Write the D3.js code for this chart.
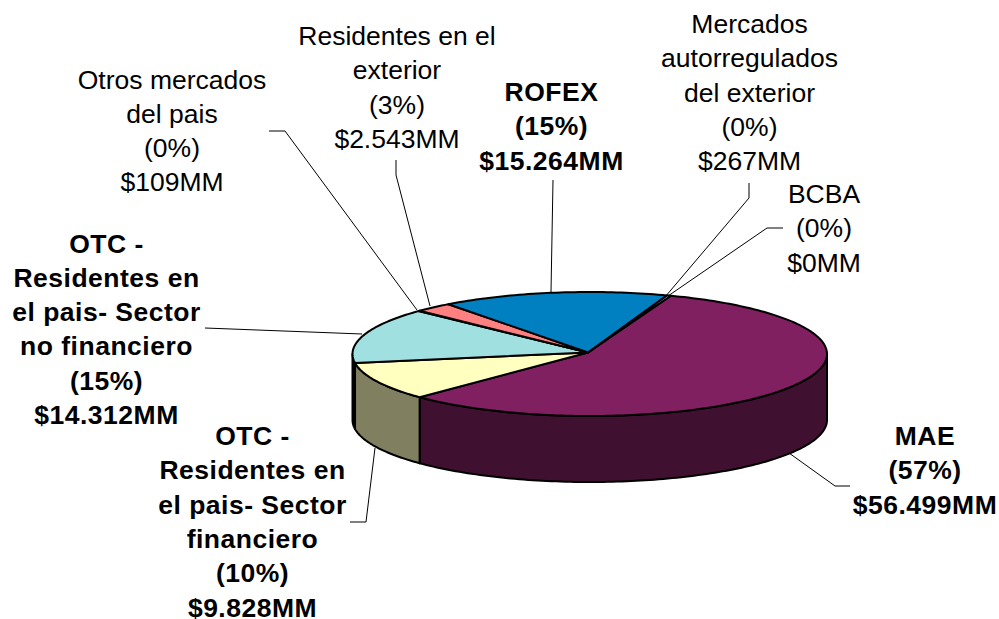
<!DOCTYPE html>
<html>
<head>
<meta charset="utf-8">
<script src="https://cdn.jsdelivr.net/npm/d3@7"></script>
<style>
    body { margin: 0; background: #fff; overflow: hidden; }
    svg { display: block; }
    text { font-family: "Liberation Sans", Arial, sans-serif; font-size: 26.5px; fill: #000; }
    text.bold { font-weight: bold; letter-spacing: 0.5px; }
</style>
</head>
<body>
<div id="chart"></div>
<script>
const categories = ["MAE", "OTC fin", "OTC no fin", "Otros", "Residentes", "ROFEX", "Autorregulados", "BCBA"];
const values = [56499, 9828, 14312, 109, 2543, 15264, 267, 0];
const topColors = ["#802060", "#ffffc0", "#a0e0e0", "#600080", "#ff8080", "#0080c0", "#c0c0ff", "#000080"];
const sideColors = ["#401030", "#808060", "#000000", "#300040", "#804040", "#004060", "#606080", "#000040"];

const labelLines = [
    ["MAE", "(57%)", "$56.499MM"],
    ["OTC -", "Residentes en", "el pais- Sector", "financiero", "(10%)", "$9.828MM"],
    ["OTC -", "Residentes en", "el pais- Sector", "no financiero", "(15%)", "$14.312MM"],
    ["Otros mercados", "del pais", "(0%)", "$109MM"],
    ["Residentes en el", "exterior", "(3%)", "$2.543MM"],
    ["ROFEX", "(15%)", "$15.264MM"],
    ["Mercados", "autorregulados", "del exterior", "(0%)", "$267MM"],
    ["BCBA", "(0%)", "$0MM"]
];
const labelBold = [true, true, true, false, false, true, false, false];
const labelX = [925, 252.5, 106.5, 172, 397, 551.5, 749.5, 824];
const labelY = [445, 445, 252.5, 88.5, 45, 101, 33, 203];
const lineStep = 34.3;

const leaders = [
    [[789, 453], [835, 486], [850, 486]],
    [[375, 448], [366, 522], [350, 522]],
    [[362, 334], [205, 328]],
    [[417, 310], [285, 131], [269, 131]],
    [[430, 306], [396, 175], [396, 160]],
    [[551, 292], [553, 180]],
    [[665, 297], [749, 198], [749, 183]],
    [[668, 296], [767, 228], [783, 228]]
];

const width = 999;
const height = 619;
const depth = 66;
const startDeg = 20;

const svg = d3.select("#chart").append("svg")
    .attr("width", width)
    .attr("height", height);

// flattened circle: unit coordinates to pixels
const px = d3.scaleLinear().domain([-1, 1]).range([352.5, 827]);
const py = d3.scaleLinear().domain([-1, 1]).range([292, 416]);

const pie = d3.pie().sort(null).startAngle(startDeg * Math.PI / 180).endAngle((startDeg + 360) * Math.PI / 180);
const slices = pie(values);

const line = d3.line().x(d => d[0]).y(d => d[1]);

function rim(a0, a1, dy) {
    const pts = [];
    const n = Math.max(2, Math.ceil((a1 - a0) / 0.02));
    for (let i = 0; i <= n; i++) {
        const a = a0 + (a1 - a0) * i / n;
        pts.push([px(Math.sin(a)), py(-Math.cos(a)) + dy]);
    }
    return pts;
}

// side wall, only the front half (angle 90 to 270 deg) can be seen
const wall = svg.append("g");
slices.forEach((s, i) => {
    const a0 = Math.max(s.startAngle, Math.PI / 2);
    const a1 = Math.min(s.endAngle, 3 * Math.PI / 2);
    if (a1 <= a0) return;
    const front = rim(a0, a1, 0);
    const back = rim(a0, a1, depth).reverse();
    wall.append("path")
        .attr("d", line(front.concat(back)) + "Z")
        .attr("fill", sideColors[i])
        .attr("stroke", "#000")
        .attr("stroke-width", 2)
        .attr("stroke-linejoin", "round");
});

// top face, the apex sits a bit up and left of the ellipse centre
const apex = [px(-0.007), py(-0.025)];
const face = svg.append("g");
slices.forEach((s, i) => {
    if (s.value === 0) return;
    const pts = [apex].concat(rim(s.startAngle, s.endAngle, 0));
    face.append("path")
        .attr("d", line(pts) + "Z")
        .attr("fill", topColors[i])
        .attr("stroke", "#000")
        .attr("stroke-width", 2)
        .attr("stroke-linejoin", "round");
});

// leader lines
svg.append("g").selectAll("path")
    .data(leaders)
    .enter()
    .append("path")
    .attr("d", d => line(d))
    .attr("fill", "none")
    .attr("stroke", "#000")
    .attr("stroke-width", 1);

// labels
labelLines.forEach((lines, i) => {
    const t = svg.append("text")
        .attr("class", labelBold[i] ? "bold" : null)
        .attr("text-anchor", "middle");
    lines.forEach((l, j) => {
        t.append("tspan")
            .attr("x", labelX[i])
            .attr("y", labelY[i] + j * lineStep)
            .text(l);
    });
});
</script>
</body>
</html>
